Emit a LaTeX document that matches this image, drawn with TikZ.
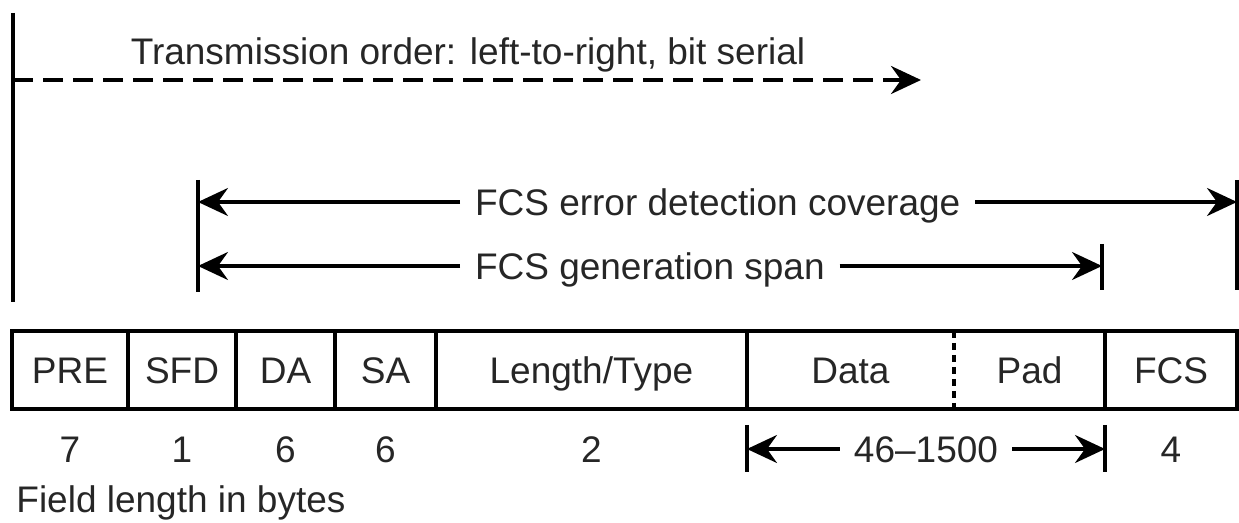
\documentclass[tikz,border=0pt]{standalone}
\usepackage{fontspec}
\setmainfont{Liberation Sans}
\usetikzlibrary{calc, arrows.meta}

\tikzset{
    field/.style={draw, line width=1.8pt, outer sep=0pt, inner sep=0pt,
        minimum height=39pt, text height=13.2pt, text depth=0pt},
    bytes/.style={outer sep=0pt, inner sep=0pt, text height=13.2pt, text depth=0pt},
    spanlabel/.style={outer sep=0pt, inner ysep=0pt, inner xsep=7.5pt,
        text height=13.2pt, text depth=0pt},
    span/.style={line width=1.7pt, -{Stealth[length=15pt, width=14pt, inset=5pt]}},
    tick/.style={line width=1.8pt},
}

\begin{document}
\begin{tikzpicture}[x=0.5pt, y=-0.5pt,
    every node/.style={font=\fontsize{18.5}{22}\selectfont, text=black!85}]
    \useasboundingbox (0, 0) rectangle (1239, 523);

    % Transmission order
    \coordinate (origin_top) at (13, 13);
    \coordinate (origin_bottom) at (13, 302);
    \draw [line width=2.2pt] (origin_top) -- (origin_bottom);

    \node (order_label) at (468, 65) 
        [anchor=base, inner sep=0pt] 
        {Transmission order: left-to-right, bit serial};
    \coordinate (order_start) at (13, 80);
    \coordinate (order_end) at (921, 80);
    \draw [span, line width=1.9pt, dash pattern=on 10pt off 5pt] (order_start) -- (order_end);

    % FCS spans
    \coordinate (cover_left_top) at (198, 180);
    \coordinate (cover_left_bottom) at (198, 292);
    \coordinate (cover_right_top) at (1237, 180);
    \coordinate (cover_right_bottom) at (1237, 290);
    \coordinate (gen_right_top) at (1102, 244);
    \coordinate (gen_right_bottom) at (1102, 290);
    \draw [tick] (cover_left_top) -- (cover_left_bottom);
    \draw [tick] (cover_right_top) -- (cover_right_bottom);
    \draw [tick] (gen_right_top) -- (gen_right_bottom);

    \node (cover_label) at (460, 202) 
        [spanlabel, anchor=west] 
        {FCS error detection coverage};
    \node (gen_label) at (460, 266) 
        [spanlabel, anchor=west] 
        {FCS generation span};

    \draw [span] (cover_label.west) -- (cover_label.west -| cover_left_top);
    \draw [span] (cover_label.east) -- (cover_label.east -| cover_right_top);
    \draw [span] (gen_label.west) -- (gen_label.west -| cover_left_top);
    \draw [span] (gen_label.east) -- (gen_label.east -| gen_right_top);

    % Frame fields
    \node (pre) at (12, 370) [field, right, minimum width=58pt] {PRE};
    \node (sfd) at (pre.east) [field, right, minimum width=54pt] {SFD};
    \node (da) at (sfd.east) [field, right, minimum width=49.5pt] {DA};
    \node (sa) at (da.east) [field, right, minimum width=50.5pt] {SA};
    \node (length_type) at (sa.east) [field, right, minimum width=155.5pt] {Length/Type};
    \node (data) at (length_type.east) [field, draw=none, right, minimum width=103.5pt] {Data};
    \node (pad) at (data.east) [field, draw=none, right, minimum width=75.5pt] {Pad};
    \node (fcs) at (pad.east) [field, right, minimum width=66pt] {FCS};

    \draw [line width=1.8pt] (data.north west) rectangle (pad.south east);
    \draw [line width=1.6pt, dash pattern=on 3.5pt off 2.5pt] 
        (data.north east) -- (data.south east);

    % Field lengths
    \node (pre_bytes) at ($(pre) + (0, 79)$) [bytes] {7};
    \node (sfd_bytes) at ($(sfd) + (0, 79)$) [bytes] {1};
    \node (da_bytes) at ($(da) + (0, 79)$) [bytes] {6};
    \node (sa_bytes) at ($(sa) + (0, 79)$) [bytes] {6};
    \node (length_type_bytes) at ($(length_type) + (0, 79)$) [bytes] {2};
    \node (data_bytes) at ($(data.west)!0.5!(pad.east) + (0, 79)$) 
        [bytes, inner xsep=7pt] 
        {46--1500};
    \node (fcs_bytes) at ($(fcs) + (0, 79)$) [bytes] {4};

    \coordinate (data_tick_top) at ($(data.south west) + (0, 16)$);
    \coordinate (data_tick_bottom) at ($(data.south west) + (0, 63)$);
    \coordinate (pad_tick_top) at ($(pad.south east) + (0, 16)$);
    \coordinate (pad_tick_bottom) at ($(pad.south east) + (0, 63)$);
    \draw [tick] (data_tick_top) -- (data_tick_bottom);
    \draw [tick] (pad_tick_top) -- (pad_tick_bottom);
    \draw [span] (data_bytes.west) -- (data_bytes.west -| data_tick_top);
    \draw [span] (data_bytes.east) -- (data_bytes.east -| pad_tick_top);

    \node (legend) at (16, 513) 
        [anchor=base west, inner sep=0pt] 
        {Field length in bytes};
\end{tikzpicture}
\end{document}
